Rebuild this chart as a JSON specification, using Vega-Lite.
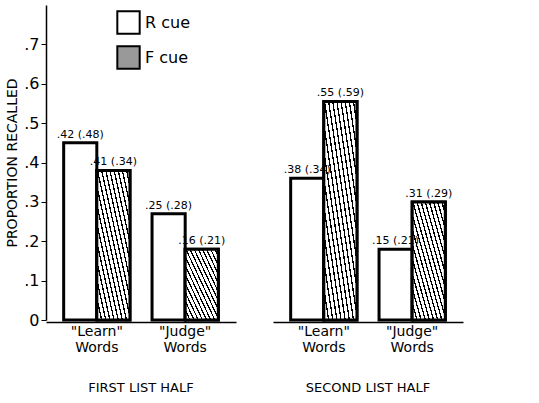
{
  "$schema": "https://vega.github.io/schema/vega-lite/v6.json",
  "background": "white",
  "config": {"view": {"stroke": null}, "font": "DejaVu Sans"},
  "data": {"values": [
    {"half": "FIRST LIST HALF", "words": "\"Learn\"|Words", "cue": "R cue", "p": 0.45, "label": ".42 (.48)"},
    {"half": "FIRST LIST HALF", "words": "\"Learn\"|Words", "cue": "F cue", "p": 0.38, "label": ".41 (.34)"},
    {"half": "FIRST LIST HALF", "words": "\"Judge\"|Words", "cue": "R cue", "p": 0.27, "label": ".25 (.28)"},
    {"half": "FIRST LIST HALF", "words": "\"Judge\"|Words", "cue": "F cue", "p": 0.18, "label": ".16 (.21)"},
    {"half": "SECOND LIST HALF", "words": "\"Learn\"|Words", "cue": "R cue", "p": 0.36, "label": ".38 (.34)"},
    {"half": "SECOND LIST HALF", "words": "\"Learn\"|Words", "cue": "F cue", "p": 0.555, "label": ".55 (.59)"},
    {"half": "SECOND LIST HALF", "words": "\"Judge\"|Words", "cue": "R cue", "p": 0.18, "label": ".15 (.21)"},
    {"half": "SECOND LIST HALF", "words": "\"Judge\"|Words", "cue": "F cue", "p": 0.30, "label": ".31 (.29)"}
  ]},
  "facet": {"column": {"field": "half", "type": "nominal", "sort": ["FIRST LIST HALF", "SECOND LIST HALF"],
    "header": {"title": null, "labelOrient": "bottom", "labelFontSize": 13, "labelPadding": 28}}},
  "spacing": 37,
  "spec": {
    "width": 190,
    "height": 315,
    "encoding": {
      "x": {"field": "words", "type": "nominal", "sort": ["\"Learn\"|Words", "\"Judge\"|Words"],
        "scale": {"paddingInner": 0.25, "paddingOuter": 0.2},
        "axis": {"title": null, "labelAngle": 0, "labelExpr": "split(datum.label, '|')", "labelFontSize": 14, "ticks": false, "domainColor": "black", "domainWidth": 1.5, "labelColor": "black"}},
      "xOffset": {"field": "cue", "type": "nominal", "sort": ["R cue", "F cue"], "scale": {"domain": ["R cue", "F cue"]}},
      "y": {"field": "p", "type": "quantitative", "scale": {"domain": [0, 0.8]},
        "axis": {"title": "PROPORTION RECALLED", "titleFontSize": 14, "titleFontWeight": "normal", "titleColor": "black",
          "values": [0, 0.1, 0.2, 0.3, 0.4, 0.5, 0.6, 0.7], "labelExpr": "datum.value == 0 ? '0' : replace(format(datum.value, '.1f'), '0.', '.')",
          "labelFontSize": 16, "labelColor": "black", "grid": false, "domainColor": "black", "domainWidth": 1.5, "tickColor": "black", "tickSize": 5}}
    },
    "layer": [
      {"mark": {"type": "bar", "stroke": "black", "strokeWidth": 3},
        "encoding": {"fill": {"field": "cue", "type": "nominal", "sort": ["R cue", "F cue"],
          "scale": {"domain": ["R cue", "F cue"], "range": ["white", "#999999"]},
          "legend": {"title": null, "orient": "none", "legendX": 70, "legendY": 5, "symbolType": "square", "symbolSize": 500, "symbolStrokeColor": "black", "symbolStrokeWidth": 2, "labelFontSize": 16, "labelColor": "black", "rowPadding": 4}}}},
      {"transform": [{"filter": "datum.cue == 'F cue'"}],
        "mark": {"type": "bar", "stroke": "black", "strokeWidth": 3, "fill": {"gradient": "linear", "x1": 0, "y1": 1, "x2": 1, "y2": 0, "stops": [
            {"offset": 0, "color": "black"}, {"offset": 0.02, "color": "black"}, {"offset": 0.02, "color": "white"}, {"offset": 0.0625, "color": "white"},
            {"offset": 0.0625, "color": "black"}, {"offset": 0.0825, "color": "black"}, {"offset": 0.0825, "color": "white"}, {"offset": 0.125, "color": "white"},
            {"offset": 0.125, "color": "black"}, {"offset": 0.145, "color": "black"}, {"offset": 0.145, "color": "white"}, {"offset": 0.1875, "color": "white"},
            {"offset": 0.1875, "color": "black"}, {"offset": 0.2075, "color": "black"}, {"offset": 0.2075, "color": "white"}, {"offset": 0.25, "color": "white"},
            {"offset": 0.25, "color": "black"}, {"offset": 0.27, "color": "black"}, {"offset": 0.27, "color": "white"}, {"offset": 0.3125, "color": "white"},
            {"offset": 0.3125, "color": "black"}, {"offset": 0.3325, "color": "black"}, {"offset": 0.3325, "color": "white"}, {"offset": 0.375, "color": "white"},
            {"offset": 0.375, "color": "black"}, {"offset": 0.395, "color": "black"}, {"offset": 0.395, "color": "white"}, {"offset": 0.4375, "color": "white"},
            {"offset": 0.4375, "color": "black"}, {"offset": 0.4575, "color": "black"}, {"offset": 0.4575, "color": "white"}, {"offset": 0.5, "color": "white"},
            {"offset": 0.5, "color": "black"}, {"offset": 0.52, "color": "black"}, {"offset": 0.52, "color": "white"}, {"offset": 0.5625, "color": "white"},
            {"offset": 0.5625, "color": "black"}, {"offset": 0.5825, "color": "black"}, {"offset": 0.5825, "color": "white"}, {"offset": 0.625, "color": "white"},
            {"offset": 0.625, "color": "black"}, {"offset": 0.645, "color": "black"}, {"offset": 0.645, "color": "white"}, {"offset": 0.6875, "color": "white"},
            {"offset": 0.6875, "color": "black"}, {"offset": 0.7075, "color": "black"}, {"offset": 0.7075, "color": "white"}, {"offset": 0.75, "color": "white"},
            {"offset": 0.75, "color": "black"}, {"offset": 0.77, "color": "black"}, {"offset": 0.77, "color": "white"}, {"offset": 0.8125, "color": "white"},
            {"offset": 0.8125, "color": "black"}, {"offset": 0.8325, "color": "black"}, {"offset": 0.8325, "color": "white"}, {"offset": 0.875, "color": "white"},
            {"offset": 0.875, "color": "black"}, {"offset": 0.895, "color": "black"}, {"offset": 0.895, "color": "white"}, {"offset": 0.9375, "color": "white"},
            {"offset": 0.9375, "color": "black"}, {"offset": 0.9575, "color": "black"}, {"offset": 0.9575, "color": "white"}, {"offset": 1, "color": "white"}
          ]}}},
      {"mark": {"type": "text", "baseline": "bottom", "dy": -3, "fontSize": 11, "color": "black"},
        "encoding": {"text": {"field": "label"}}}
    ]
  }
}
